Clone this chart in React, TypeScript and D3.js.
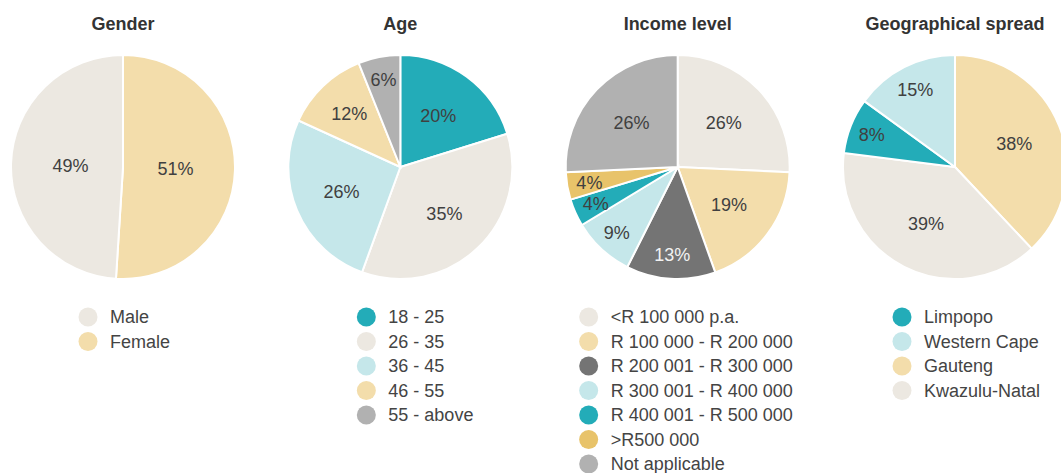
import React from 'react';
import * as d3 from 'd3';

// colours used across the four pies
const beige = '#ece8e1',
  sand = '#f3ddab',
  teal = '#23acb8',
  cyan = '#c5e7ea',
  grey = '#b1b1b1',
  darkGrey = '#747474',
  gold = '#e8c36a';

const W = 1061, H = 473;
const radius = 112;
const cy = 167;

// data
const genderLabels = ['Female', 'Male'];
const genderValues = [51, 49];
const genderLegend = ['Male', 'Female'];

const ageLabels = ['18 - 25', '26 - 35', '36 - 45', '46 - 55', '55 - above'];
const ageValues = [20, 35, 26, 12, 6];
const ageLegend = ['18 - 25', '26 - 35', '36 - 45', '46 - 55', '55 - above'];

const incomeLabels = ['<R 100 000 p.a.', 'R 100 000 - R 200 000', 'R 200 001 - R 300 000', 'R 300 001 - R 400 000', 'R 400 001 - R 500 000', '>R500 000', 'Not applicable'];
const incomeValues = [26, 19, 13, 9, 4, 4, 26];
const incomeLegend = incomeLabels;

const geoLabels = ['Gauteng', 'Kwazulu-Natal', 'Limpopo', 'Western Cape'];
const geoValues = [38, 39, 8, 15];
const geoLegend = ['Limpopo', 'Western Cape', 'Gauteng', 'Kwazulu-Natal'];

const colorOf: Record<string, string> = {
  'Male': beige, 'Female': sand,
  '18 - 25': teal, '26 - 35': beige, '36 - 45': cyan, '46 - 55': sand, '55 - above': grey,
  '<R 100 000 p.a.': beige, 'R 100 000 - R 200 000': sand, 'R 200 001 - R 300 000': darkGrey,
  'R 300 001 - R 400 000': cyan, 'R 400 001 - R 500 000': teal, '>R500 000': gold, 'Not applicable': grey,
  'Limpopo': teal, 'Western Cape': cyan, 'Gauteng': sand, 'Kwazulu-Natal': beige,
};

const panels = [
  { title: 'Gender', labels: genderLabels, values: genderValues, legend: genderLegend, legendDx: -35 },
  { title: 'Age', labels: ageLabels, values: ageValues, legend: ageLegend, legendDx: -34 },
  { title: 'Income level', labels: incomeLabels, values: incomeValues, legend: incomeLegend, legendDx: -89 },
  { title: 'Geographical spread', labels: geoLabels, values: geoValues, legend: geoLegend, legendDx: -53 },
];

const xScale = d3.scalePoint<number>().domain([0, 1, 2, 3]).range([123, 955]);
const rowScale = d3.scaleLinear().domain([0, 1]).range([317, 341.5]);

const font = '"Liberation Sans", Arial, sans-serif';

// label distance from centre, as a share of the radius (small slices get pushed out)
function labelK(p: number) {
  if (p > 0.4) return 0.47;
  if (p < 0.1) return 0.8;
  if (p < 0.125) return 0.66;
  if (p < 0.16) return 0.78;
  return 0.57;
}

function Pie({ panel, i }: { panel: typeof panels[number]; i: number }) {
  const cx = xScale(i) as number;
  const pie = d3.pie<number>().sort(null).value(d => d);
  const arcs = pie(panel.values);
  const total = d3.sum(panel.values);
  const arc = d3.arc<d3.PieArcDatum<number>>().innerRadius(0).outerRadius(radius);

  return (
    <g>
      <text x={cx} y={30} textAnchor="middle" fontFamily={font} fontWeight="bold" fontSize={18} fill="#333">
        {panel.title}
      </text>
      <g transform={`translate(${cx},${cy})`}>
        {arcs.map((a, j) => (
          <path key={j} d={arc(a) || ''} fill={colorOf[panel.labels[j]]} stroke="#fff" strokeWidth={2} />
        ))}
        {arcs.map((a, j) => {
          const lr = radius * labelK(a.value / total);
          const lArc = d3.arc<d3.PieArcDatum<number>>().innerRadius(lr).outerRadius(lr);
          const [lx, ly] = lArc.centroid(a);
          const dark = colorOf[panel.labels[j]] === darkGrey;
          return (
            <text key={j} x={lx} y={ly} dy="0.36em" textAnchor="middle" fontFamily={font} fontSize={18}
              fill={dark ? '#f2f2f2' : '#404040'}>
              {`${a.value}%`}
            </text>
          );
        })}
      </g>
      <g transform={`translate(${cx + panel.legendDx},0)`}>
        {panel.legend.map((name, j) => (
          <g key={name} transform={`translate(0,${rowScale(j)})`}>
            <circle r={9.5} fill={colorOf[name]} />
            <text x={22} dy="0.36em" fontFamily={font} fontSize={18} fill="#444">{name}</text>
          </g>
        ))}
      </g>
    </g>
  );
}

export default function App() {
  return (
    <svg width={W} height={H} style={{ position: 'absolute', left: 0, top: 0, background: '#fff' }}>
      {panels.map((p, i) => <Pie key={p.title} panel={p} i={i} />)}
    </svg>
  );
}
